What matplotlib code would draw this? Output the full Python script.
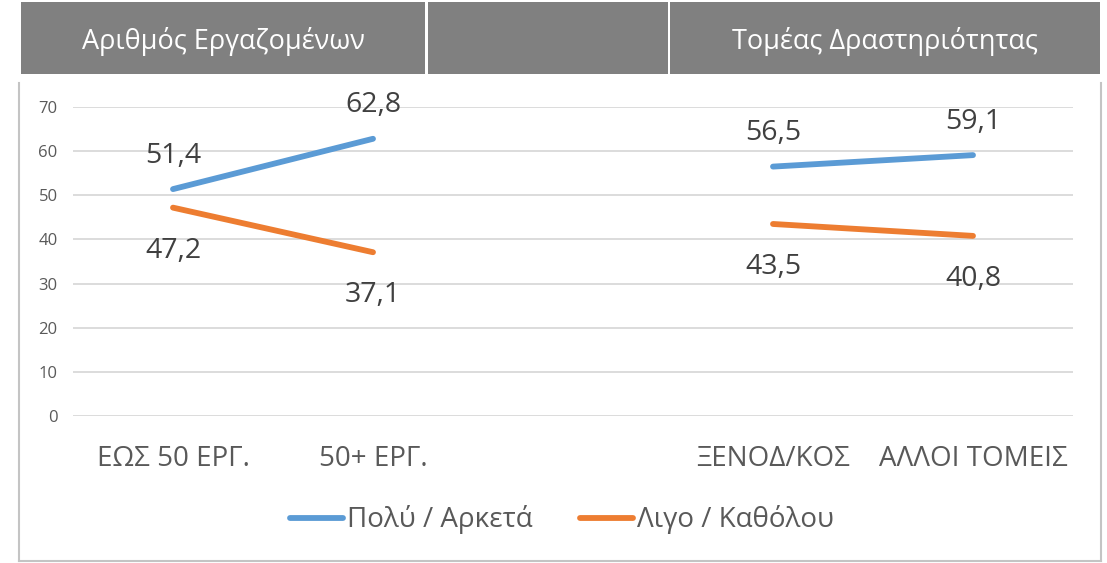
import numpy as np
import matplotlib
matplotlib.use('Agg')
import matplotlib.pyplot as plt
from matplotlib.patches import Rectangle
from matplotlib.lines import Line2D

plt.rcParams['font.family'] = ['Open Sans', 'DejaVu Sans']

# Data
categories = ['ΕΩΣ 50 ΕΡΓ.', '50+ ΕΡΓ.', '', 'ΞΕΝΟΔ/ΚΟΣ', 'ΑΛΛΟΙ ΤΟΜΕΙΣ']
poly_arketa = [51.4, 62.8, np.nan, 56.5, 59.1]
ligo_katholou = [47.2, 37.1, np.nan, 43.5, 40.8]
series_names = ['Πολύ / Αρκετά', 'Λιγο / Καθόλου']
header_labels = ['Αριθμός Εργαζομένων', '', 'Τομέας Δραστηριότητας']
y_ticks = [0, 10, 20, 30, 40, 50, 60, 70]

W, H = 1107, 563
fig = plt.figure(figsize=(W / 100, H / 100), dpi=100)

def fx(px):
    return px / W

def fy(py):
    return 1 - py / H

# Header boxes
header_boxes = [(21, 425), (428, 668), (670, 1100)]
for (x0, x1), label in zip(header_boxes, header_labels):
    fig.patches.append(Rectangle((fx(x0), fy(74)), fx(x1 - x0), (74 - 2) / H,
                                 transform=fig.transFigure, facecolor='#808080',
                                 edgecolor='none', zorder=0))
    if label:
        fig.text(fx((x0 + x1) / 2), fy(41), label, color='white', fontsize=19.5,
                 ha='center', va='center')

# Chart frame (left, right, bottom)
frame_c = '#c4c4c4'
fig.add_artist(Line2D([fx(19), fx(19)], [fy(83), fy(561)], color=frame_c, lw=1.5,
                      transform=fig.transFigure))
fig.add_artist(Line2D([fx(1101), fx(1101)], [fy(83), fy(561)], color=frame_c, lw=1.5,
                      transform=fig.transFigure))
fig.add_artist(Line2D([fx(19), fx(1101)], [fy(561), fy(561)], color=frame_c, lw=1.5,
                      transform=fig.transFigure))

# Plot area
ax = fig.add_axes([fx(73), fy(416), fx(1073 - 73), (416 - 107) / H])
x = np.arange(len(categories))
blue = '#5B9BD5'
orange = '#ED7D31'
ax.plot(x, poly_arketa, color=blue, lw=4.2, solid_capstyle='round', label=series_names[0])
ax.plot(x, ligo_katholou, color=orange, lw=4.2, solid_capstyle='round', label=series_names[1])

for xi, v in zip(x, poly_arketa):
    if not np.isnan(v):
        ax.annotate(f'{v:.1f}'.replace('.', ','), (xi, v), xytext=(0, 24),
                    textcoords='offset points', ha='center', va='center',
                    fontsize=20.5, color='#404040')
for xi, v in zip(x, ligo_katholou):
    if not np.isnan(v):
        ax.annotate(f'{v:.1f}'.replace('.', ','), (xi, v), xytext=(0, -31),
                    textcoords='offset points', ha='center', va='center',
                    fontsize=20.5, color='#404040')

ax.set_xlim(-0.5, len(categories) - 0.5)
ax.set_ylim(0, 70)
ax.set_yticks(y_ticks)
ax.set_xticks(x)
ax.set_xticklabels(categories, fontsize=20, color='#595959')
ax.tick_params(axis='y', length=0, pad=11, labelsize=12, labelcolor='#595959')
ax.tick_params(axis='x', length=0, pad=21)
ax.grid(axis='y', color='#d9d9d9', lw=1.3)
ax.set_axisbelow(True)
for s in ax.spines.values():
    s.set_visible(False)

ax.legend(loc='center', bbox_to_anchor=(fx(562), fy(520)), bbox_transform=fig.transFigure,
          ncol=2, frameon=False, fontsize=20, handlelength=1.9, handletextpad=0.15,
          columnspacing=1.7, labelcolor='#595959')

fig.savefig('out.png', dpi=100)
